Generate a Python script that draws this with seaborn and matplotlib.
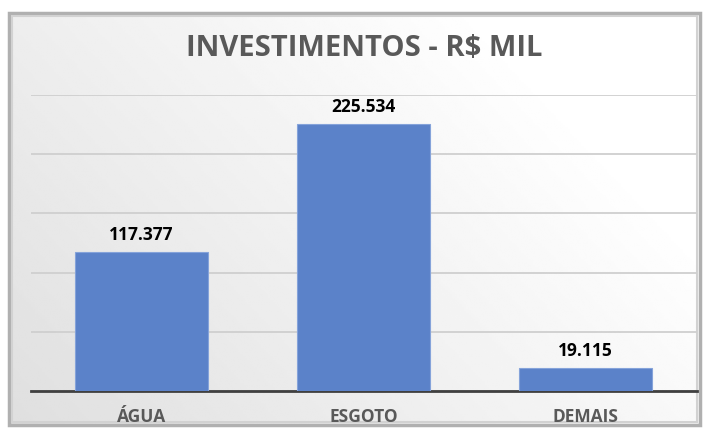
import matplotlib.pyplot as plt
import matplotlib.patches as mpatches
import numpy as np
import pandas as pd
import seaborn as sns

# valores do grafico (R$ mil)
categorias = ["ÁGUA", "ESGOTO", "DEMAIS"]
valores = [117377, 225534, 19115]
rotulos = ["117.377", "225.534", "19.115"]

df = pd.DataFrame({"cat": categorias, "val": valores})

sns.set_style("white")
plt.rcParams['font.family'] = ['Open Sans', 'DejaVu Sans']

fig = plt.figure(figsize=(7.07, 4.32), dpi=100)
fig.patch.set_facecolor("white")

# fundo com degrade
bg = fig.add_axes([0, 0, 1, 1], zorder=-5)
bg.set_xlim(0, 707)
bg.set_ylim(432, 0)
bg.axis("off")
xx, yy = np.meshgrid(np.linspace(0, 1, 300), np.linspace(0, 1, 200))
grad = 0.875 + 0.125 * np.clip(0.8 * xx + 0.45 * (1 - yy), 0, 1)
grad = np.clip(grad, 0, 1)
bg.imshow(grad, cmap="gray", vmin=0, vmax=1, extent=[9, 700, 425, 13],
          aspect="auto", interpolation="bilinear")
bg.add_patch(mpatches.Rectangle((9, 13), 691, 412, fill=False,
                                edgecolor="#b0b0b0", linewidth=2.5))
bg.add_patch(mpatches.Rectangle((12, 16), 685, 406, fill=False,
                                edgecolor="#d2d2d2", linewidth=1.5))

ax = fig.add_axes([30.5 / 707, (432 - 391) / 432, 666 / 707, 296 / 432])
ax.set_facecolor("none")
sns.barplot(data=df, x="cat", y="val", color="#5b82c9", width=0.6,
            saturation=1, ax=ax, zorder=3, edgecolor="#85a3da", linewidth=0.8)

ax.set_ylim(0, 250000)
ax.set_xlim(-0.5, 2.5)
ax.set_yticks(np.arange(0, 250001, 50000))
ax.yaxis.grid(True, color="#cfcfcf", linewidth=1.3, zorder=0)
ax.set_axisbelow(True)
ax.tick_params(axis="y", left=False, labelleft=False)
ax.tick_params(axis="x", bottom=False, pad=9)
for lab in ax.get_xticklabels():
    lab.set_fontweight("bold")
    lab.set_color("#595959")
    lab.set_fontsize(12.5)
for s in ["top", "right", "left"]:
    ax.spines[s].set_visible(False)
ax.spines["bottom"].set_color("#404040")
ax.spines["bottom"].set_linewidth(2)
ax.set_xlabel("")
ax.set_ylabel("")

for i, v in enumerate(valores):
    ax.annotate(rotulos[i], (i, v), xytext=(0, 6), textcoords="offset points",
                ha="center", va="bottom", fontsize=12.5, fontweight="bold",
                color="black")

fig.text(364 / 707, (432 - 49) / 432, "INVESTIMENTOS - R$ MIL", ha="center",
         va="center", fontsize=21, fontweight="bold", color="#595959")

fig.savefig("out.png", dpi=100)
